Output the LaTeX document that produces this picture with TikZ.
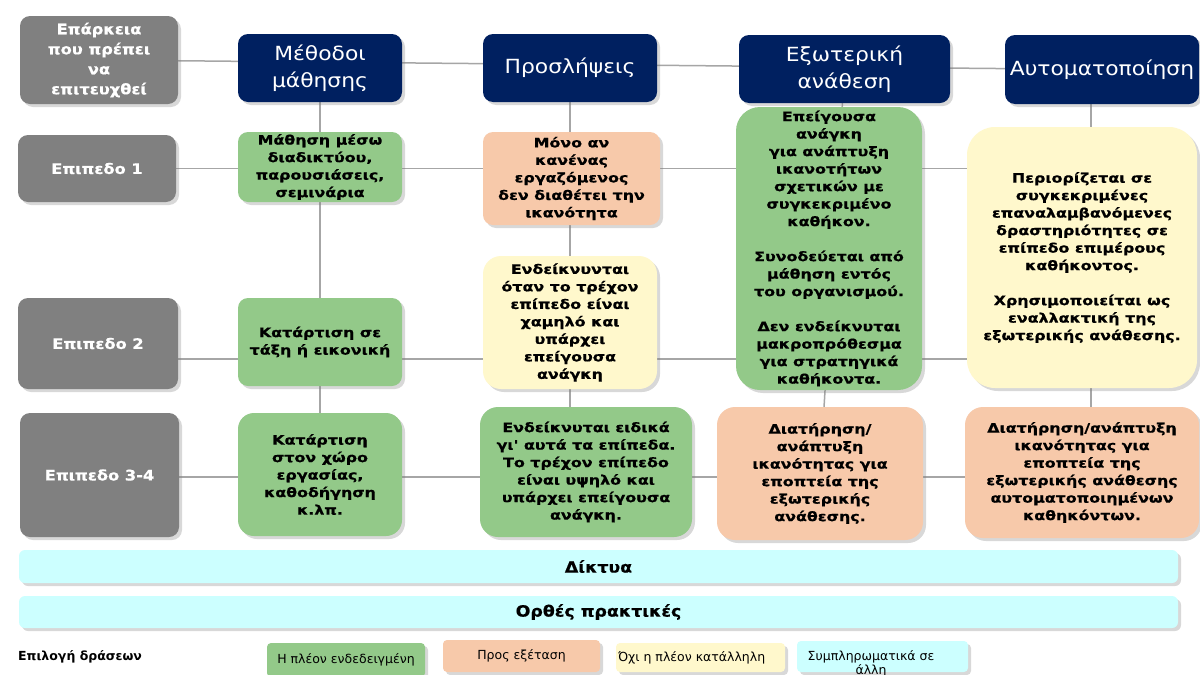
\documentclass[tikz,border=0pt]{standalone}
\usepackage{fontspec}
\setmainfont{DejaVu Sans}
\newfontfamily\wide{DejaVu Sans}[FakeStretch=1.12, BoldFeatures={FakeBold=0.6}]
\newfontfamily\wider{DejaVu Sans}[FakeStretch=1.22, BoldFeatures={FakeBold=0.8}]
\newfontfamily\hdrfont{DejaVu Sans}[FakeStretch=1.12]
\usetikzlibrary{shadows,backgrounds}
\definecolor{navy}{RGB}{0,32,96}
\definecolor{gbox}{RGB}{128,128,128}
\definecolor{grn}{RGB}{147,201,137}
\definecolor{pch}{RGB}{247,201,170}
\definecolor{ylw}{RGB}{255,248,204}
\definecolor{cyn}{RGB}{204,255,255}
\definecolor{gridc}{RGB}{166,166,166}
\begin{document}
\begin{tikzpicture}[x=1pt,y=-1pt,
  base/.style={rounded corners=10pt, align=center, inner sep=0pt,
    drop shadow={shadow xshift=3pt, shadow yshift=-3pt, opacity=0.3}},
  lvl/.style={base, fill=gbox, text=white, font=\wide\bfseries\fontsize{14.5}{20}\selectfont},
  hdr/.style={base, fill=navy, text=white, font=\hdrfont\fontsize{19.5}{27}\selectfont},
  cell/.style={base, font=\wider\bfseries\fontsize{13}{17.5}\selectfont},
  band/.style={base, rounded corners=6pt, fill=cyn, font=\wide\bfseries\fontsize{15.5}{18}\selectfont},
  lg/.style={base, rounded corners=4pt, font=\fontsize{12.5}{14}\selectfont},
  link/.style={draw=gridc, line width=1.5pt},
  sz/.style 2 args={minimum width=#1pt, minimum height=#2pt}]
\useasboundingbox (0,0) rectangle (1200,675);

% level boxes
\node[lvl, sz={158}{88}] (e0) at (99,60) {Επάρκεια\\που πρέπει\\να\\επιτευχθεί};
\node[lvl, sz={158}{67}] (l1) at (97,168.5) {Επιπεδο 1};
\node[lvl, sz={160}{91}] (l2) at (98,343.5) {Επιπεδο 2};
\node[lvl, sz={159}{124}] (l3) at (99.5,475) {Επιπεδο 3-4};

% headers
\node[hdr, sz={164}{68}] (h1) at (320,68) {Μέθοδοι\\μάθησης};
\node[hdr, sz={174}{68}] (h2) at (570,68) {Προσλήψεις};
\node[hdr, sz={211}{68}] (h3) at (844.5,69) {Εξωτερική\\ανάθεση};
\node[hdr, sz={194}{69}] (h4) at (1102,69.5) {Αυτοματοποίηση};

% row 1
\node[cell, fill=grn, sz={164}{70}] (c1r1) at (320,167) {Μάθηση μέσω\\διαδικτύου,\\παρουσιάσεις,\\σεμινάρια};
\node[cell, fill=pch, sz={177}{93}] (c2r1) at (571.5,178.5) {Μόνο αν\\κανένας\\εργαζόμενος\\δεν διαθέτει την\\ικανότητα};
\node[cell, fill=grn, rounded corners=24pt, sz={186}{283}] (c3r12) at (829,248.5) {Επείγουσα\\ανάγκη\\για ανάπτυξη\\ικανοτήτων\\σχετικών με\\συγκεκριμένο\\καθήκον.\\[17.5pt]Συνοδεύεται από\\μάθηση εντός\\του οργανισμού.\\[17.5pt]Δεν ενδείκνυται\\μακροπρόθεσμα\\για στρατηγικά\\καθήκοντα.};
\node[cell, fill=ylw, rounded corners=28pt, sz={230}{261}] (c4r12) at (1082,257.5) {Περιορίζεται σε\\συγκεκριμένες\\επαναλαμβανόμενες\\δραστηριότητες σε\\επίπεδο επιμέρους\\καθήκοντος.\\[17.5pt]Χρησιμοποιείται ως\\εναλλακτική της\\εξωτερικής ανάθεσης.};

% row 2
\node[cell, fill=grn, sz={164}{88}] (c1r2) at (320,342) {Κατάρτιση σε\\τάξη ή εικονική};
\node[cell, fill=ylw, rounded corners=18pt, sz={174}{133}] (c2r2) at (570,322.5) {Ενδείκνυνται\\όταν το τρέχον\\επίπεδο είναι\\χαμηλό και\\υπάρχει\\επείγουσα\\ανάγκη};

% row 3
\node[cell, fill=grn, rounded corners=16pt, sz={164}{123}] (c1r3) at (320,474.5) {Κατάρτιση\\στον χώρο\\εργασίας,\\καθοδήγηση\\κ.λπ.};
\node[cell, fill=grn, rounded corners=18pt, sz={212}{130}] (c2r3) at (586,472) {Ενδείκνυται ειδικά\\γι' αυτά τα επίπεδα.\\Το τρέχον επίπεδο\\είναι υψηλό και\\υπάρχει επείγουσα\\ανάγκη.};
\node[cell, fill=pch, rounded corners=18pt, sz={206}{133}] (c3r3) at (820,473.5) {Διατήρηση/\\ανάπτυξη\\ικανότητας για\\εποπτεία της\\εξωτερικής\\ανάθεσης.};
\node[cell, fill=pch, rounded corners=18pt, sz={234}{131}] (c4r3) at (1082,472.5) {Διατήρηση/ανάπτυξη\\ικανότητας για\\εποπτεία της\\εξωτερικής ανάθεσης\\αυτοματοποιημένων\\καθηκόντων.};

% bands
\node[band, sz={1159}{33}] (b1) at (598.5,566.5) {Δίκτυα};
\node[band, sz={1159}{32}] (b2) at (598.5,612) {Ορθές πρακτικές};

% legend
\node[anchor=west, inner sep=0pt, font=\bfseries\fontsize{12.5}{14}\selectfont] (lgt) at (18,657) {Επιλογή δράσεων};
\node[lg, fill=grn, sz={158}{34}] (lg1) at (346,660) {Η πλέον ενδεδειγμένη};
\node[lg, fill=pch, sz={157}{32}] (lg2) at (521.5,656) {Προς εξέταση};
\node[lg, fill=ylw, sz={169}{29}] (lg3) at (700.5,657.5) {};
\node[anchor=west, inner sep=0pt, font=\fontsize{12.5}{14}\selectfont] (lg3t) at ([xshift=2pt]lg3.west) {Όχι η πλέον κατάλληλη};
\node[lg, fill=cyn, sz={171}{31}] (lg4) at (882.5,656.5) {};
\node[anchor=north, inner sep=0pt, align=center, font=\fontsize{12.5}{14}\selectfont] (lg4t) at (871,650) {Συμπληρωματικά σε\\άλλη};

\begin{scope}[on background layer]
\fill[white] (0,0) rectangle (1200,675);
\coordinate (r2) at (0,359);
\coordinate (r3) at (0,477);
\coordinate (v4) at (1091,0);
\draw[link] (e0) -- (h4);
\draw[link] (l1) -- (c4r12 |- l1);
\draw[link] (l2 |- r2) -- (c4r12 |- r2);
\draw[link] (l3 |- r3) -- (c4r3 |- r3);
\draw[link] (h1) -- (c1r3);
\draw[link] (h2) -- (h2 |- c2r3);
\draw[link] (h3) -- (c3r3);
\draw[link] (h4 -| v4) -- (c4r3 -| v4);
\end{scope}
\end{tikzpicture}
\end{document}
